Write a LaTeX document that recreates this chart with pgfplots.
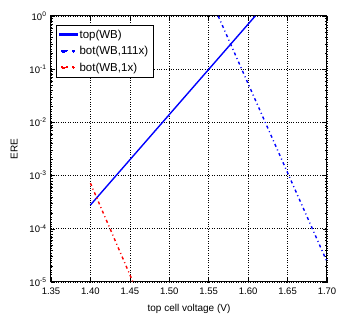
\documentclass[border=0pt]{standalone}
\usepackage{fontspec}
\setmainfont{Liberation Sans}
\usepackage{pgfplots}
\pgfplotsset{compat=1.18}

\begin{document}
\begin{tikzpicture}
\begin{axis}[
    at={(0,0)}, anchor=south west,
    scale only axis,
    width=276pt, height=266pt,
    ymode=log,
    xmin=1.35, xmax=1.70,
    ymin=1e-5, ymax=1,
    xtick={1.35,1.40,1.45,1.50,1.55,1.60,1.65,1.70},
    ytick={1e-5,1e-4,1e-3,1e-2,1e-1,1},
    yticklabels={10\textsuperscript{-5},10\textsuperscript{-4},10\textsuperscript{-3},10\textsuperscript{-2},10\textsuperscript{-1},10\textsuperscript{0}},
    /pgf/number format/assume math mode=true,
    xticklabel style={font=\fontsize{9.5}{11}\selectfont, yshift=-2pt,
        /pgf/number format/.cd,fixed,fixed zerofill,precision=2},
    yticklabel style={font=\fontsize{9.5}{11}\selectfont, xshift=-1pt},
    xlabel={top cell voltage (V)},
    ylabel={ERE},
    label style={font=\fontsize{10}{12}\selectfont},
    xlabel style={yshift=-3pt},
    ylabel style={yshift=5pt},
    axis line style={line width=1pt},
    tick align=inside,
    major tick length=4pt,
    minor tick length=2pt,
    tick style={black, line width=0.5pt},
    xminorticks=false,
    grid=major,
    grid style={black, dotted, line width=0.6pt},
    legend style={at={(0.018,0.965)}, anchor=north west,
        font=\fontsize{11.5}{13}\selectfont,
        draw=black, fill=white,
        inner xsep=3pt, inner ysep=2.5pt,
        row sep=2.5pt},
    legend cell align=left,
]
\addplot[color=blue, line width=1.4pt,
    legend image code/.code={\fill[blue] (0pt,-0.8pt) rectangle (17pt,0.8pt);}]
    coordinates {
    (1.400,2.8e-4) (1.609,1.0)
};
\addlegendentry{top(WB)}
\addplot[color=blue, line width=1.4pt, dash pattern=on 3pt off 3pt on 1pt off 3pt,
    legend image code/.code={\fill[blue] (2pt,-0.8pt) rectangle (7pt,0.8pt);
        \fill[blue] (13pt,-0.8pt) rectangle (15pt,0.8pt);}]
    coordinates {
    (1.562,1.0) (1.700,2.4e-5)
};
\addlegendentry{bot(WB,111x)}
\addplot[color=red, line width=1.4pt, dash pattern=on 3pt off 3pt on 1pt off 3pt,
    legend image code/.code={\fill[red] (2pt,-0.8pt) rectangle (7pt,0.8pt);
        \fill[red] (13pt,-0.8pt) rectangle (15pt,0.8pt);}]
    coordinates {
    (1.400,7.2e-4) (1.454,1.0e-5)
};
\addlegendentry{bot(WB,1x)}
\end{axis}
\path (-51pt,-41pt) rectangle (295pt,282pt);
\end{tikzpicture}
\end{document}
